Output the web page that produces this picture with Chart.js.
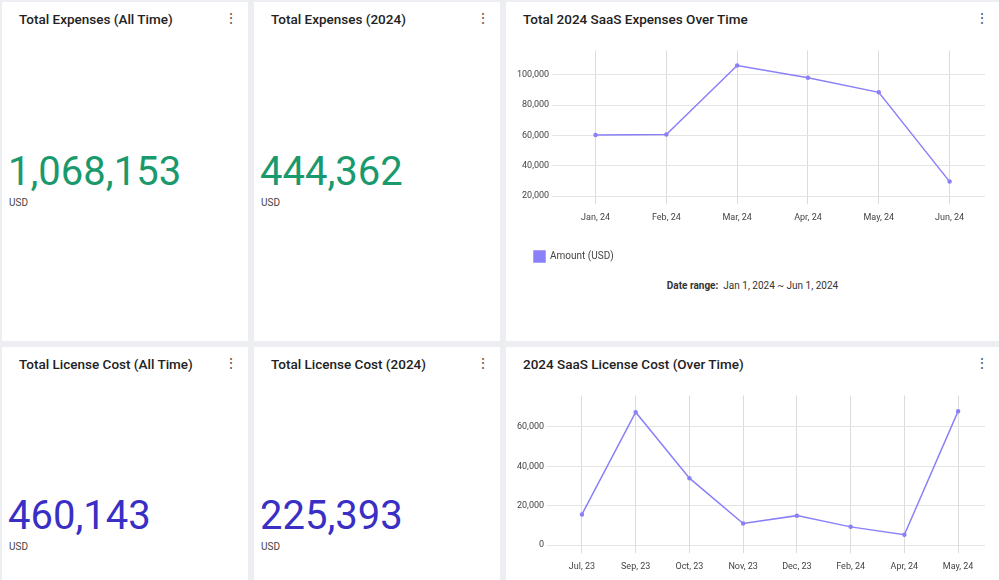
<!DOCTYPE html>
<html>
<head>
<meta charset="utf-8">
<script src="https://cdn.jsdelivr.net/npm/chart.js@4"></script>
<style>
  body { margin: 0; width: 999px; height: 580px; background: #eceef2; font-family: Roboto, sans-serif; position: relative; overflow: hidden; }
  .card { position: absolute; background: #fff; }
  .title { position: absolute; left: 17px; top: 9px; font-size: 13.5px; font-weight: 500; color: #222; }
  .dots { position: absolute; right: 10px; top: 8px; font-size: 14px; color: #555; }
  .big { position: absolute; left: 6px; font-size: 40px; }
  .unit { position: absolute; left: 7px; font-size: 10px; color: #444; }
  .range { position: absolute; left: 0; width: 100%; text-align: center; top: 278px; font-size: 10px; color: #333; }
</style>
</head>
<body>
<div class="card" style="left:2px;top:2px;width:246px;height:339px">
  <div class="title">Total Expenses (All Time)</div><div class="dots">&#8942;</div>
  <div class="big" style="top:146px;color:#1a9a6c">1,068,153</div><div class="unit" style="top:195px">USD</div>
</div>
<div class="card" style="left:254px;top:2px;width:246px;height:339px">
  <div class="title">Total Expenses (2024)</div><div class="dots">&#8942;</div>
  <div class="big" style="top:146px;color:#1a9a6c">444,362</div><div class="unit" style="top:195px">USD</div>
</div>
<div class="card" style="left:506px;top:2px;width:493px;height:339px">
  <div class="title">Total 2024 SaaS Expenses Over Time</div><div class="dots">&#8942;</div>
  <div style="position:absolute;left:4px;top:40px;width:485px;height:230px"><canvas id="c1"></canvas></div>
  <div class="range"><b>Date range:</b>&nbsp; Jan 1, 2024 ~ Jun 1, 2024</div>
</div>
<div class="card" style="left:2px;top:347px;width:246px;height:233px">
  <div class="title">Total License Cost (All Time)</div><div class="dots">&#8942;</div>
  <div class="big" style="top:145px;color:#3a2fc4">460,143</div><div class="unit" style="top:194px">USD</div>
</div>
<div class="card" style="left:254px;top:347px;width:246px;height:233px">
  <div class="title">Total License Cost (2024)</div><div class="dots">&#8942;</div>
  <div class="big" style="top:145px;color:#3a2fc4">225,393</div><div class="unit" style="top:194px">USD</div>
</div>
<div class="card" style="left:506px;top:347px;width:493px;height:233px">
  <div class="title">2024 SaaS License Cost (Over Time)</div><div class="dots">&#8942;</div>
  <div style="position:absolute;left:4px;top:40px;width:485px;height:193px"><canvas id="c2"></canvas></div>
</div>
<script>
const expMonths = ['Jan, 24', 'Feb, 24', 'Mar, 24', 'Apr, 24', 'May, 24', 'Jun, 24'];
const expValues = [60300, 60600, 106000, 98000, 88400, 29600];
const expTicks = [20000, 40000, 60000, 80000, 100000];
const licMonths = ['Jul, 23', 'Sep, 23', 'Oct, 23', 'Nov, 23', 'Dec, 23', 'Feb, 24', 'Apr, 24', 'May, 24'];
const licValues = [15600, 67500, 34000, 11000, 15000, 9300, 5300, 68000];
const licTicks = [0, 20000, 40000, 60000];

const lineColor = '#8a80f8';
Chart.defaults.font.family = 'Roboto, sans-serif';
Chart.defaults.font.size = 9;
Chart.defaults.color = '#444';

function makeChart(id, labels, values, tickValues, min, max, showLegend) {
  new Chart(document.getElementById(id), {
    type: 'line',
    data: {
      labels: labels,
      datasets: [{
        label: 'Amount (USD)',
        data: values,
        borderColor: lineColor,
        backgroundColor: lineColor,
        borderWidth: 1.5,
        pointRadius: 1.5,
        tension: 0
      }]
    },
    options: {
      responsive: true,
      maintainAspectRatio: false,
      animation: false,
      layout: { padding: { left: 4, right: 10 } },
      plugins: {
        legend: {
          display: showLegend,
          position: 'bottom',
          align: 'start',
          labels: { boxWidth: 11, boxHeight: 11, padding: 20, font: { size: 10 } }
        },
        tooltip: { enabled: false }
      },
      scales: {
        x: {
          offset: true,
          grid: { color: '#dcdcdc', offset: false },
          border: { display: false },
          ticks: { padding: 8 }
        },
        y: {
          min: min,
          max: max,
          grid: { color: '#e4e4e4' },
          border: { display: false },
          afterBuildTicks: axis => { axis.ticks = tickValues.map(v => ({ value: v })); },
          ticks: { callback: v => v.toLocaleString('en-US') }
        }
      }
    }
  });
}

makeChart('c1', expMonths, expValues, expTicks, 20000, 116000, true);
makeChart('c2', licMonths, licValues, licTicks, 0, 76000, false);
</script>
</body>
</html>
